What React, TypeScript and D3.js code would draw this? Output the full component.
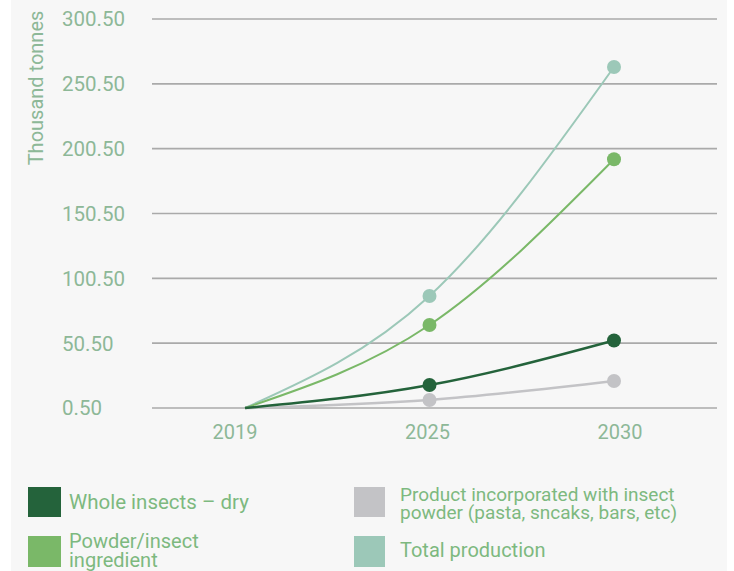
import React from "react";
import * as d3 from "d3";

const years = ["2019", "2025", "2030"];
const wholeInsects = [0.5, 18.2, 52.5];
const powderIngredient = [0.5, 64.5, 192.3];
const productPowder = [0.5, 6.7, 21.3];
const totalProduction = [0.5, 86.9, 263.5];
const yTicks = [0.5, 50.5, 100.5, 150.5, 200.5, 250.5, 300.5];

const seriesNames = ["Whole insects – dry", "Powder/insect ingredient", "Product incorporated with insect powder (pasta, sncaks, bars, etc)", "Total production"];
const seriesColors = ["#24633b", "#7ab868", "#c3c3c6", "#9cc8b8"];

const W = 734;
const H = 571;

export default function App() {
  const y = d3.scaleLinear().domain([0.5, 300.5]).range([408, 19]);
  const xLine = d3.scalePoint<string>().domain(years).range([245, 614]);
  const xLabel = d3.scalePoint<string>().domain(years).range([235, 620]);

  const series = [
    { name: seriesNames[3], values: totalProduction, color: seriesColors[3], width: 2 },
    { name: seriesNames[1], values: powderIngredient, color: seriesColors[1], width: 2 },
    { name: seriesNames[2], values: productPowder, color: seriesColors[2], width: 2.5 },
    { name: seriesNames[0], values: wholeInsects, color: seriesColors[0], width: 2.5 },
  ];

  const line = d3
    .line<number>()
    .x((_, i) => xLine(years[i]) as number)
    .y((d) => y(d))
    .curve(d3.curveMonotoneX);

  const font = "Roboto, 'Noto Sans', sans-serif";
  const tickColor = "#8db897";
  const legendColor = "#7db97f";

  return (
    <div style={{ position: "absolute", left: 0, top: 0 }}>
      <svg width={W} height={H} style={{ display: "block", fontFamily: font }}>
        <rect x={0} y={0} width={W} height={H} fill="#ffffff" />
        <rect x={11} y={0} width={716} height={H} fill="#f7f7f7" />

        {/* gridlines + y labels */}
        {yTicks.map((t) => (
          <g key={t}>
            <line x1={152} x2={717} y1={y(t)} y2={y(t)} stroke="#aaaaaa" strokeWidth={1.6} />
            <text x={62} y={y(t)} dy="0.36em" fontSize={20.5} fill={tickColor}>
              {t.toFixed(2)}
            </text>
          </g>
        ))}

        <text
          transform={`translate(43, 88) rotate(-90)`}
          textAnchor="middle"
          fontSize={20}
          fill={tickColor}
        >
          Thousand tonnes
        </text>

        {/* x labels */}
        {years.map((yr) => (
          <text key={yr} x={xLabel(yr)} y={439} textAnchor="middle" fontSize={20} fill={tickColor}>
            {yr}
          </text>
        ))}

        {/* lines */}
        {series.map((s) => (
          <path key={s.name} d={line(s.values) || ""} fill="none" stroke={s.color} strokeWidth={s.width} />
        ))}
        {series.map((s) =>
          s.values.map((v, i) =>
            i === 0 ? null : (
              <circle key={s.name + i} cx={xLine(years[i])} cy={y(v)} r={7} fill={s.color} />
            )
          )
        )}

        {/* legend */}
        <rect x={28} y={487} width={33} height={30} fill={seriesColors[0]} />
        <text x={69} y={509} fontSize={20.5} fill={legendColor}>
          {seriesNames[0]}
        </text>

        <rect x={28} y={536} width={33} height={31} fill={seriesColors[1]} />
        <text x={69} y={548} fontSize={20} fill={legendColor}>
          <tspan x={69}>Powder/insect</tspan>
          <tspan x={69} y={567}>ingredient</tspan>
        </text>

        <rect x={354} y={487} width={31} height={30} fill={seriesColors[2]} />
        <text x={400} y={501} fontSize={19} fill={legendColor}>
          <tspan x={400}>Product incorporated with insect</tspan>
          <tspan x={400} y={519}>powder (pasta, sncaks, bars, etc)</tspan>
        </text>

        <rect x={354} y={536} width={31} height={31} fill={seriesColors[3]} />
        <text x={400} y={557} fontSize={20} fill={legendColor}>
          {seriesNames[3]}
        </text>
      </svg>
    </div>
  );
}
